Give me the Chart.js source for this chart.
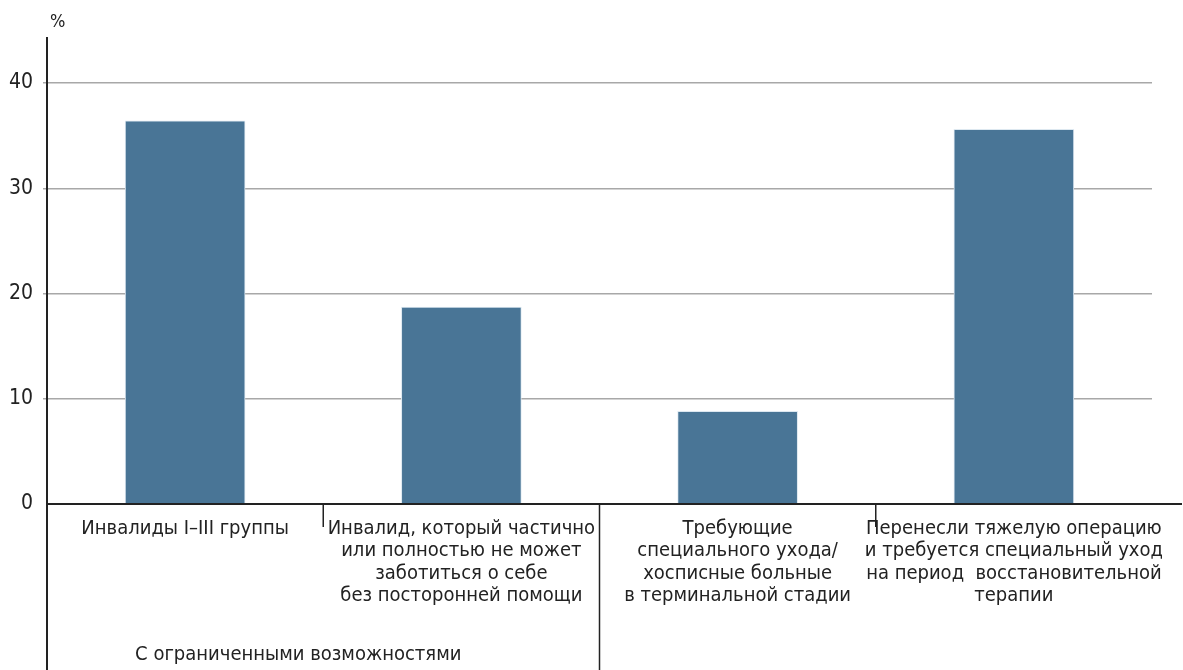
<!DOCTYPE html>
<html>
<head>
<meta charset="utf-8">
<style>
  html, body { margin: 0; padding: 0; background: #fff; }
  #wrap { width: 1183px; height: 670px; }
</style>
<script src="https://cdn.jsdelivr.net/npm/chart.js"></script>
</head>
<body>
<div id="wrap"><canvas id="careChart" width="1183" height="670"></canvas></div>
<script>
const categories = [
  ['Инвалиды I–III группы'],
  ['Инвалид, который частично', 'или полностью не может', 'заботиться о себе', 'без посторонней помощи'],
  ['Требующие', 'специального ухода/', 'хосписные больные', 'в терминальной стадии'],
  ['Перенесли тяжелую операцию', 'и требуется специальный уход', 'на период  восстановительной', 'терапии']
];
const shares = [36.4, 18.7, 8.8, 35.6];
const yTicks = [0, 10, 20, 30, 40];
const groupLabel = 'С ограниченными возможностями';
const groupMembers = [0, 1];
const unitLabel = '%';

const FONT = '"Liberation Sans Narrow", "DejaVu Sans Condensed", "Liberation Sans", sans-serif';
const INK = '#222';

// axis lines, separators under the axis, group label
const extrasPlugin = {
  id: 'extras',
  afterDraw(chart) {
    const ctx = chart.ctx;
    const xs = chart.scales.x;
    const area = chart.chartArea;
    const H = chart.height;
    ctx.save();
    ctx.strokeStyle = INK;
    ctx.lineWidth = 2;
    ctx.beginPath();
    ctx.moveTo(area.left, area.top - 46);
    ctx.lineTo(area.left, H);
    ctx.stroke();
    ctx.beginPath();
    ctx.moveTo(area.left, area.bottom);
    ctx.lineTo(chart.width - 1, area.bottom);
    ctx.stroke();
    const lastInGroup = groupMembers[groupMembers.length - 1];
    ctx.lineWidth = 1.5;
    for (let i = 0; i < categories.length - 1; i++) {
      const bx = (xs.getPixelForValue(i) + xs.getPixelForValue(i + 1)) / 2;
      const len = i === lastInGroup ? H - area.bottom : 23;
      ctx.beginPath();
      ctx.moveTo(bx, area.bottom);
      ctx.lineTo(bx, area.bottom + len);
      ctx.stroke();
    }
    const gx = (xs.getPixelForValue(groupMembers[0]) + xs.getPixelForValue(lastInGroup)) / 2 - 25;
    ctx.fillStyle = INK;
    ctx.font = '20px ' + FONT;
    ctx.textAlign = 'center';
    ctx.textBaseline = 'middle';
    ctx.fillText(groupLabel, gx, H - 15);
    ctx.font = '18px ' + FONT;
    ctx.textAlign = 'left';
    ctx.fillText(unitLabel, area.left + 3, 22);
    ctx.restore();
  }
};

new Chart(document.getElementById('careChart').getContext('2d'), {
  type: 'bar',
  data: {
    labels: categories,
    datasets: [{
      data: shares,
      backgroundColor: '#497596',
      borderColor: '#dde8f0',
      borderWidth: 1,
      barThickness: 120
    }]
  },
  options: {
    responsive: false,
    animation: false,
    layout: { padding: { top: 83, right: 31, bottom: 0, left: 0 } },
    plugins: {
      legend: { display: false },
      tooltip: { enabled: false }
    },
    scales: {
      x: {
        grid: { display: false },
        border: { display: false },
        afterFit(scale) { scale.height = 166; },
        ticks: {
          autoSkip: false,
          maxRotation: 0,
          minRotation: 0,
          padding: 5,
          color: INK,
          font: { family: FONT, size: 20, lineHeight: 1.13 }
        }
      },
      y: {
        min: 0,
        max: 40,
        afterFit(scale) { scale.width = 47; },
        afterBuildTicks(scale) { scale.ticks = yTicks.map(v => ({ value: v })); },
        border: { display: false },
        grid: {
          color: ctx => ctx.tick && ctx.tick.value === 0 ? 'rgba(0,0,0,0)' : '#a8a8a8',
          lineWidth: 1.5,
          tickLength: 4
        },
        ticks: {
          padding: 10,
          color: INK,
          font: { family: FONT, size: 21 }
        }
      }
    }
  },
  plugins: [extrasPlugin]
});
</script>
</body>
</html>
